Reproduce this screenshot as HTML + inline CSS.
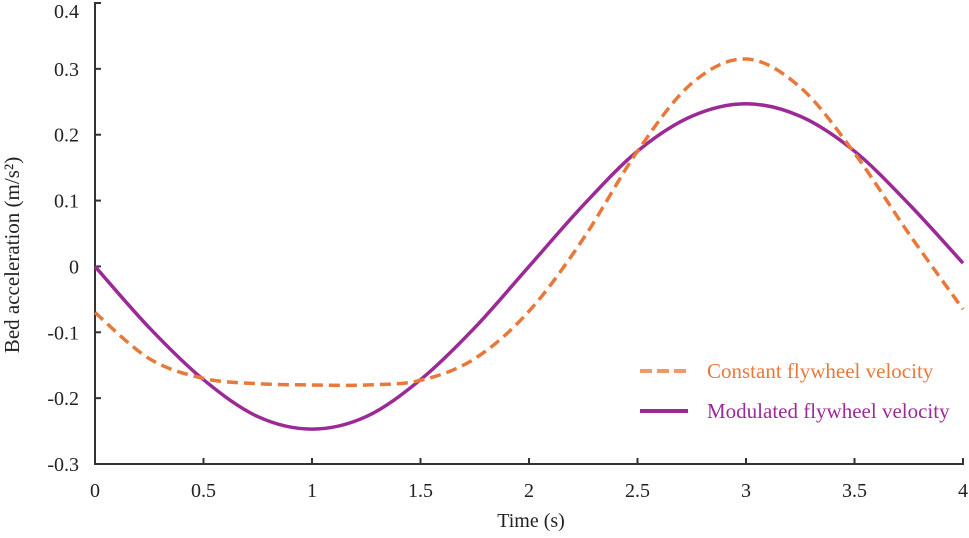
<!DOCTYPE html>
<html><head><meta charset="utf-8"><style>
body{margin:0;background:#fff;}
svg text{font-family:"Liberation Serif",serif;fill:#222;}
</style></head><body>
<svg width="969" height="533" viewBox="0 0 969 533">
<g id="axes"></g>
<g id="series"></g>
<g>
 <line x1="640" y1="371" x2="688" y2="371" stroke="#EE9A68" stroke-width="4" stroke-dasharray="12,5"/>
 <text x="707" y="378" font-size="21" style="fill:#E8793A">Constant flywheel velocity</text>
 <line x1="640" y1="411" x2="688" y2="411" stroke="#9B2A96" stroke-width="4"/>
 <text x="707" y="418" font-size="21" style="fill:#9B2A96">Modulated flywheel velocity</text>
</g>
<text x="531" y="527" font-size="20" text-anchor="middle">Time (s)</text>
<text transform="translate(19,255) rotate(-90)" font-size="21" text-anchor="middle">Bed acceleration (m/s²)</text>
</svg>
<script>
const times=[0,0.25,0.5,0.75,1,1.25,1.5,1.75,2,2.25,2.5,2.75,3,3.25,3.5,3.75,4];
const constantVel=[-0.07,-0.14,-0.17,-0.178,-0.18,-0.18,-0.173,-0.14,-0.068,0.042,0.175,0.278,0.315,0.272,0.172,0.05,-0.065];
const modulatedVel=[0,-0.093,-0.172,-0.228,-0.247,-0.228,-0.172,-0.093,0,0.093,0.175,0.228,0.247,0.228,0.175,0.095,0.005];
const xTicks=[0,0.5,1,1.5,2,2.5,3,3.5,4];
const yTicks=[-0.3,-0.2,-0.1,0,0.1,0.2,0.3,0.4];
const NS="http://www.w3.org/2000/svg";
const X0=95,X1=963,Y0=464,Y1=3;
function xs(v){return X0+(v-0)/(4-0)*(X1-X0);}
function ys(v){return Y0-(v+0.3)/(0.7)*(Y0-Y1);}
function mk(tag,attrs,parent){const e=document.createElementNS(NS,tag);for(const k in attrs)e.setAttribute(k,attrs[k]);parent.appendChild(e);return e;}
const axes=document.getElementById('axes');
let a=mk('path',{d:`M${X0+6},${Y1}H${X0}V${Y0}H${X1}V${Y0-6}`,fill:'none',stroke:'#333','stroke-width':2},axes);


xTicks.forEach(t=>{
 const x=xs(t);
 const l=mk('line',{x1:x,x2:x,y1:Y0,y2:Y0-6,stroke:'#333','stroke-width':2},axes);
 
 
 const tx=mk('text',{x:x,y:Y0+33,'font-size':20,'text-anchor':'middle'},axes);
 tx.textContent=String(t);
 
 
});
yTicks.forEach(t=>{
 const y=ys(t);
 const l=mk('line',{x1:X0,x2:X0+6,y1:y,y2:y,stroke:'#333','stroke-width':2},axes);
 
 
 const tx=mk('text',{x:X0-16,y:Math.max(y+7,18),'font-size':20,'text-anchor':'end'},axes);
 tx.textContent=String(t);
 
 
});
function smooth(vals){
 const p=times.map((t,i)=>[xs(t),ys(vals[i])]);
 let d=`M${p[0][0]},${p[0][1]}`;
 for(let i=0;i<p.length-1;i++){
  const p0=p[Math.max(0,i-1)],p1=p[i],p2=p[i+1],p3=p[Math.min(p.length-1,i+2)];
  const c1=[p1[0]+(p2[0]-p0[0])/6,p1[1]+(p2[1]-p0[1])/6];
  const c2=[p2[0]-(p3[0]-p1[0])/6,p2[1]-(p3[1]-p1[1])/6];
  d+=`C${c1[0]},${c1[1]} ${c2[0]},${c2[1]} ${p2[0]},${p2[1]}`;
 }
 return d;
}
const ser=document.getElementById('series');
const pm=mk('path',{d:smooth(modulatedVel),fill:'none',stroke:'#9B2A96','stroke-width':3.5},ser);


const pc=mk('path',{d:smooth(constantVel),fill:'none',stroke:'#E8793A','stroke-width':3.5,'stroke-dasharray':'11,6'},ser);


</script>
</body></html>
